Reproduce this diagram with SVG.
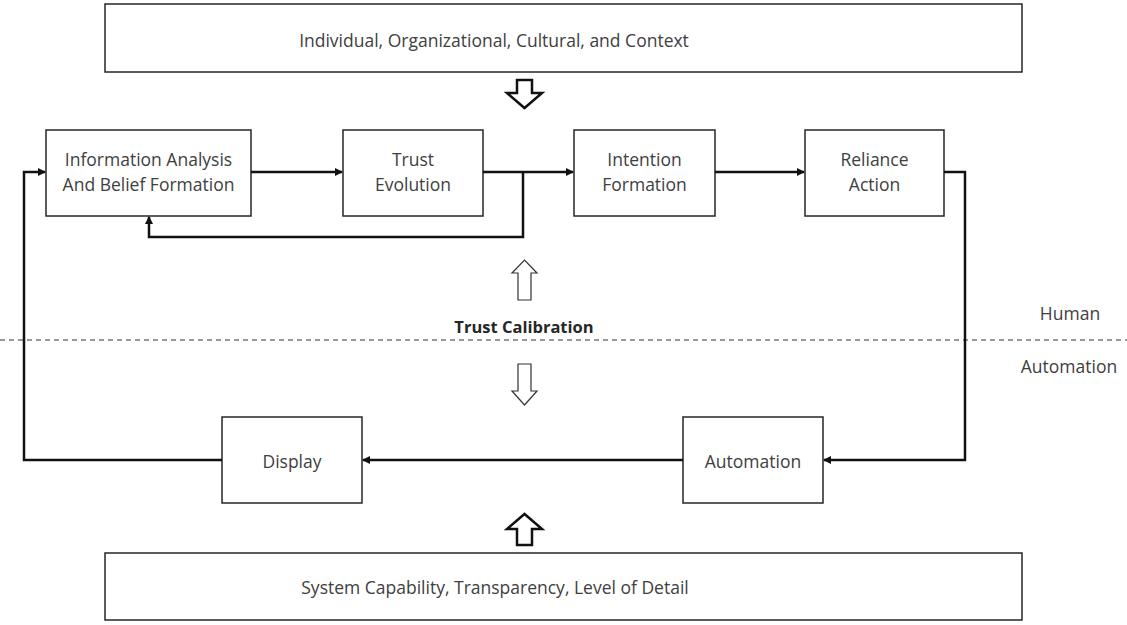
<svg xmlns="http://www.w3.org/2000/svg" width="1127" height="625" viewBox="0 0 1127 625">
  <style>
    .box { fill: #ffffff; stroke: #262626; stroke-width: 1.5; }
    .lbl { font-family: "Open Sans", "Liberation Sans", Arial, sans-serif; font-size: 17.5px; fill: #404040; text-anchor: middle; dominant-baseline: central; }
    .bold { font-weight: bold; font-size: 16.5px; fill: #262626; }
    .conn { fill: none; stroke: #111111; stroke-width: 2.5; }
    .fat { fill: #ffffff; stroke: #111111; stroke-width: 2.5; stroke-linejoin: miter; }
    .thin { fill: #ffffff; stroke: #333333; stroke-width: 1.2; }
  </style>
  <defs>
    <marker id="head" markerWidth="8" markerHeight="8" refX="7" refY="4" orient="auto" markerUnits="userSpaceOnUse">
      <path d="M0,0 L8,4 L0,8 Z" fill="#111111"/>
    </marker>
  </defs>

  <rect width="1127" height="625" fill="#ffffff"/>

  <!-- context frames -->
  <g id="context">
    <rect class="box" x="105" y="4" width="917" height="68"/>
    <text class="lbl" x="494" y="40">Individual, Organizational, Cultural, and Context</text>
  </g>
  <g id="capability">
    <rect class="box" x="105" y="553" width="917" height="67"/>
    <text class="lbl" x="495" y="587">System Capability, Transparency, Level of Detail</text>
  </g>

  <!-- human-side process -->
  <g id="info">
    <rect class="box" x="46" y="130" width="205" height="86"/>
    <text class="lbl" x="148.5" y="159">Information Analysis</text>
    <text class="lbl" x="148.5" y="184">And Belief Formation</text>
  </g>
  <g id="trust">
    <rect class="box" x="343" y="130" width="140" height="86"/>
    <text class="lbl" x="413" y="159">Trust</text>
    <text class="lbl" x="413" y="184">Evolution</text>
  </g>
  <g id="intention">
    <rect class="box" x="574" y="130" width="141" height="86"/>
    <text class="lbl" x="644.5" y="159">Intention</text>
    <text class="lbl" x="644.5" y="184">Formation</text>
  </g>
  <g id="reliance">
    <rect class="box" x="805" y="130" width="139" height="86"/>
    <text class="lbl" x="874.5" y="159">Reliance</text>
    <text class="lbl" x="874.5" y="184">Action</text>
  </g>

  <!-- automation-side process -->
  <g id="display">
    <rect class="box" x="222" y="417" width="140" height="86"/>
    <text class="lbl" x="292" y="461">Display</text>
  </g>
  <g id="automation">
    <rect class="box" x="683" y="417" width="140" height="86"/>
    <text class="lbl" x="753" y="461">Automation</text>
  </g>

  <!-- human / automation boundary -->
  <g id="boundary">
    <line x1="0" y1="340" x2="1127" y2="340" stroke="#333333" stroke-width="1.2" stroke-dasharray="5,4"/>
    <text class="lbl bold" x="524" y="326">Trust Calibration</text>
    <text class="lbl" x="1070" y="313">Human</text>
    <text class="lbl" x="1069" y="366">Automation</text>
  </g>

  <!-- block arrows -->
  <g id="block-arrows">
    <path class="fat" d="M517,80 L532,80 L532,93 L542,93 L524.5,108 L507,93 L517,93 Z"/>
    <path class="fat" d="M517,545 L532,545 L532,529 L542,529 L524.5,514 L507,529 L517,529 Z"/>
    <path class="thin" d="M518,300 L531,300 L531,273 L537,273 L524.5,260 L512,273 L518,273 Z"/>
    <path class="thin" d="M518,364 L531,364 L531,391 L537,391 L524.5,405 L512,391 L518,391 Z"/>
  </g>

  <!-- connectors -->
  <g id="connectors">
    <line class="conn" x1="251" y1="172" x2="342" y2="172" marker-end="url(#head)"/>
    <line class="conn" x1="483" y1="172" x2="573" y2="172" marker-end="url(#head)"/>
    <polyline class="conn" points="523,172 523,237 149,237 149,217" marker-end="url(#head)"/>
    <line class="conn" x1="715" y1="172" x2="804" y2="172" marker-end="url(#head)"/>
    <polyline class="conn" points="944,172 965,172 965,460 824,460" marker-end="url(#head)"/>
    <line class="conn" x1="683" y1="460" x2="363" y2="460" marker-end="url(#head)"/>
    <polyline class="conn" points="222,460 24,460 24,172 45,172" marker-end="url(#head)"/>
  </g>
</svg>
